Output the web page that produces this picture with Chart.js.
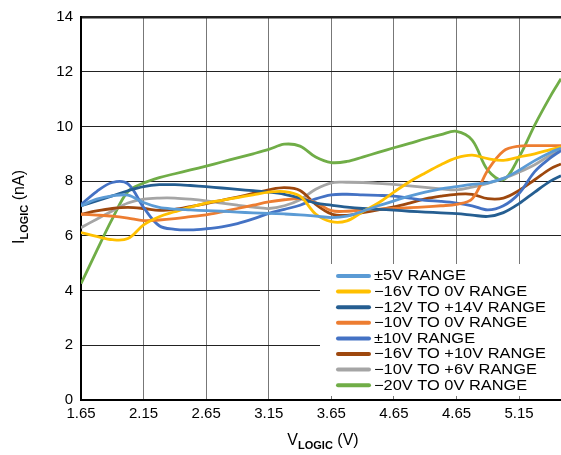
<!DOCTYPE html>
<html>
<head>
<meta charset="utf-8">
<script src="https://cdn.jsdelivr.net/npm/chart.js@4.4.0/dist/chart.umd.min.js"></script>
<style>
  html, body { margin: 0; padding: 0; background: #fff; }
</style>
</head>
<body>
<canvas id="myChart" width="561" height="455"></canvas>
<script>
const FONT = "'Liberation Sans', Arial, sans-serif";

// x positions are in tick-index units (0 = first label)
const XS = [0, 0.25, 0.5, 0.75, 1, 1.25, 1.5, 1.75, 2, 2.25, 2.5, 2.75, 3, 3.25, 3.5, 3.75,
            4, 4.25, 4.5, 4.75, 5, 5.25, 5.5, 5.75, 6, 6.25, 6.5, 6.75, 7, 7.25, 7.5, 7.67];
const xLabels = ['1.65', '2.15', '2.65', '3.15', '3.65', '4.65', '4.65', '5.15'];

const seriesNames = ['±5V RANGE', '−16V TO 0V RANGE', '−12V TO +14V RANGE', '−10V TO 0V RANGE',
                     '±10V RANGE', '−16V TO +10V RANGE', '−10V TO +6V RANGE', '−20V TO 0V RANGE'];
const seriesColors = ['#5b9bd5', '#ffc000', '#255e91', '#ed7d31', '#4472c4', '#9e480e', '#a5a5a5', '#70ad47'];

const pm5 = [7.1, 7.34, 7.46, 7.49, 7.22, 7.04, 6.98, 6.95, 6.92, 6.9, 6.87, 6.84, 6.82, 6.8, 6.77, 6.72,
             6.67, 6.72, 6.9, 7.1, 7.28, 7.45, 7.6, 7.72, 7.8, 7.88, 7.94, 8.1, 8.4, 8.75, 9.05, 9.2];
const n16to0 = [6.12, 5.98, 5.86, 5.9, 6.4, 6.7, 6.88, 7.05, 7.2, 7.3, 7.4, 7.5, 7.6, 7.62, 7.45, 6.8,
                6.52, 6.55, 6.88, 7.2, 7.6, 7.98, 8.3, 8.6, 8.85, 8.95, 8.82, 8.76, 8.88, 9.0, 9.15, 9.25];
const n12to14 = [7.1, 7.28, 7.46, 7.65, 7.8, 7.87, 7.87, 7.84, 7.8, 7.75, 7.7, 7.65, 7.6, 7.52, 7.38, 7.2,
                 7.12, 7.05, 7.0, 6.97, 6.94, 6.9, 6.87, 6.84, 6.81, 6.76, 6.71, 6.85, 7.18, 7.6, 8.0, 8.2];
const n10to0 = [6.79, 6.76, 6.72, 6.65, 6.56, 6.58, 6.63, 6.7, 6.77, 6.88, 7.0, 7.12, 7.24, 7.32, 7.36, 7.22,
                6.92, 6.9, 6.95, 6.98, 7.0, 7.03, 7.06, 7.1, 7.15, 7.35, 8.4, 9.1, 9.28, 9.3, 9.3, 9.3];
const pm10 = [7.14, 7.62, 7.95, 7.9, 7.04, 6.37, 6.24, 6.22, 6.26, 6.33, 6.45, 6.62, 6.82, 6.97, 7.12, 7.35,
              7.5, 7.52, 7.5, 7.48, 7.45, 7.38, 7.3, 7.26, 7.2, 7.1, 6.95, 7.1, 7.55, 8.35, 8.85, 9.12];
const n16to10 = [6.79, 6.91, 7.0, 7.04, 7.0, 6.93, 6.97, 7.07, 7.18, 7.3, 7.42, 7.55, 7.68, 7.76, 7.66, 7.15,
                 6.8, 6.75, 6.85, 6.95, 7.06, 7.2, 7.35, 7.45, 7.52, 7.52, 7.36, 7.38, 7.66, 8.05, 8.45, 8.63];
const n10to6 = [6.3, 6.61, 6.91, 7.2, 7.34, 7.38, 7.38, 7.34, 7.28, 7.2, 7.12, 7.05, 7.0, 7.1, 7.32, 7.7,
                7.94, 7.96, 7.95, 7.92, 7.88, 7.83, 7.77, 7.72, 7.68, 7.78, 7.92, 8.1, 8.33, 8.6, 8.95, 9.15];
const n20to0 = [4.25, 5.45, 6.62, 7.62, 7.93, 8.13, 8.27, 8.41, 8.55, 8.7, 8.85, 9.0, 9.16, 9.35, 9.28, 8.88,
                8.68, 8.72, 8.88, 9.05, 9.22, 9.38, 9.55, 9.7, 9.82, 9.5, 8.4, 8.05, 8.88, 10.05, 11.1, 11.74];

const allSeries = [pm5, n16to0, n12to14, n10to0, pm10, n16to10, n10to6, n20to0];

// draws main text + subscript + rest, centred on (0,0) of the current transform
function drawSubText(ctx, main, sub, rest) {
  ctx.font = '16px ' + FONT;
  const w1 = ctx.measureText(main).width;
  const w3 = ctx.measureText(rest).width;
  ctx.font = 'bold 11px ' + FONT;
  const w2 = ctx.measureText(sub).width;
  let x = -(w1 + w2 + w3) / 2;
  ctx.textBaseline = 'alphabetic';
  ctx.textAlign = 'left';
  ctx.font = '16px ' + FONT;
  ctx.fillText(main, x, 5);
  x += w1;
  ctx.font = 'bold 11px ' + FONT;
  ctx.fillText(sub, x, 8.5);
  x += w2;
  ctx.font = '16px ' + FONT;
  ctx.fillText(rest, x, 5);
}

const extras = {
  id: 'extras',
  afterDraw(chart) {
    const ctx = chart.ctx;
    ctx.save();
    // legend box over the grid
    ctx.fillStyle = '#fff';
    ctx.fillRect(320, 264, 241, 132);
    ctx.font = '14px ' + FONT;
    ctx.textBaseline = 'middle';
    ctx.textAlign = 'left';
    const widest = Math.max(...chart.data.datasets.map(d => ctx.measureText(d.label).width));
    const stretch = 172 / widest;
    chart.data.datasets.forEach((ds, i) => {
      const y = 276 + i * 15.6;
      ctx.strokeStyle = ds.borderColor;
      ctx.lineWidth = 4;
      ctx.lineCap = 'round';
      ctx.beginPath();
      ctx.moveTo(338, y);
      ctx.lineTo(369, y);
      ctx.stroke();
      ctx.fillStyle = '#000';
      ctx.save();
      ctx.translate(374, y + 0.5);
      ctx.scale(stretch, 1);
      ctx.fillText(ds.label, 0, 0);
      ctx.restore();
    });
    // axis titles
    ctx.fillStyle = '#000';
    ctx.save();
    ctx.translate(323, 440);
    drawSubText(ctx, 'V', 'LOGIC', ' (V)');
    ctx.restore();
    ctx.save();
    ctx.translate(19, 207);
    ctx.rotate(-Math.PI / 2);
    drawSubText(ctx, 'I', 'LOGIC', ' (nA)');
    ctx.restore();
    ctx.restore();
  }
};

new Chart(document.getElementById('myChart'), {
  type: 'line',
  data: {
    datasets: allSeries.map((vals, i) => ({
      label: seriesNames[i],
      data: vals.map((v, j) => ({ x: XS[j], y: v })),
      borderColor: seriesColors[i],
      backgroundColor: seriesColors[i],
      borderWidth: 2.8,
      pointRadius: 0,
      fill: false,
      tension: 0.35
    }))
  },
  options: {
    responsive: false,
    animation: false,
    layout: { padding: { top: 16, left: 0, right: 0, bottom: 0 } },
    plugins: {
      legend: { display: false },
      tooltip: { enabled: false }
    },
    scales: {
      x: {
        type: 'linear',
        min: 0,
        max: 7.67,
        afterFit: (scale) => { scale.height = 55; },
        border: { color: '#000', width: 2 },
        grid: { color: '#777', lineWidth: 1, drawTicks: false },
        ticks: {
          stepSize: 1,
          includeBounds: false,
          padding: 5,
          color: '#000',
          font: { family: FONT, size: 15 },
          maxRotation: 0,
          callback: (v) => xLabels[v]
        }
      },
      y: {
        min: 0,
        max: 14,
        afterFit: (scale) => { scale.width = 81; },
        border: { color: '#000', width: 2 },
        grid: {
          color: '#222',
          lineWidth: (c) => (c.tick && c.tick.value === 14 ? 2.5 : 1),
          drawTicks: false
        },
        ticks: {
          stepSize: 2,
          padding: 8,
          color: '#000',
          font: { family: FONT, size: 15 }
        }
      }
    }
  },
  plugins: [extras]
});
</script>
</body>
</html>
